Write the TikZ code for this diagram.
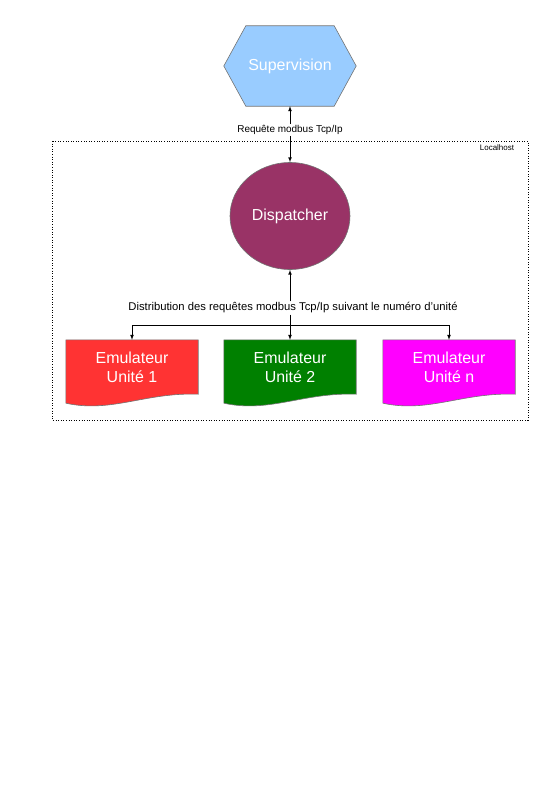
\documentclass[tikz,border=0pt]{standalone}
\usepackage{fontspec}
\setmainfont{Liberation Sans}
\usepackage{tikz}
\usetikzlibrary{shapes.geometric,calc}
\definecolor{supblue}{HTML}{99CCFF}
\definecolor{dispred}{HTML}{993366}
\definecolor{emured}{HTML}{FF3333}
\definecolor{emugreen}{HTML}{008000}
\definecolor{emupink}{HTML}{FF00FF}
\tikzstyle{big}=[text=white,font=\fontsize{16}{19}\selectfont,align=center]
\tikzstyle{small}=[text=black,font=\fontsize{10}{12}\selectfont,inner sep=1bp]
\tikzstyle{emu}=[rectangle,big,minimum width=132bp,minimum height=54bp,inner sep=0pt]
\tikzstyle{outline}=[draw=gray!90!black,line width=0.6bp]
\tikzstyle{link}=[->,line width=0.7bp,>=latex]

\begin{document}
\begin{tikzpicture}[x=1bp,y=-1bp]
  \useasboundingbox (0,0) rectangle (556,786);

  % le cadre localhost
  \draw[dotted,line width=0.6bp] (52,141) rectangle (528,420);
  \node[small,font=\fontsize{8}{10}\selectfont] (lh) at (497,148) {Localhost};

  \node[big,minimum width=88bp,minimum height=80bp,inner sep=0pt] (sup) at (290,66) {};
  \draw[outline,fill=supblue] ($(sup.west)+(-22,0)$) -- (sup.north west) -- (sup.north east)
    -- ($(sup.east)+(22,0)$) -- (sup.south east) -- (sup.south west) -- cycle;
  \node[big] at (sup) {Supervision};

  \node[ellipse,outline,fill=dispred,big,minimum width=120bp,minimum height=107bp] (disp) at (290,216) {Dispatcher};

  \node[emu] (E1) at (132,367) {};
  \node[emu] (E2) at (290,367) {};
  \node[emu] (En) at (449,367) {};
  \foreach \e/\c in {E1/emured,E2/emugreen,En/emupink}
    \draw[outline,fill=\c] ($(\e.south west)+(0,9)$) -- (\e.north west) -- (\e.north east)
      -- (\e.south east) .. controls +(-53,-2) and +(46,10) .. ($(\e.south west)+(0,9)$) -- cycle;
  \node[big] at (E1) {Emulateur\\Unité 1};
  \node[big] at (E2) {Emulateur\\Unité 2};
  \node[big] at (En) {Emulateur\\Unité n};

  \node[small] (req) at (290,130) {Requête modbus Tcp/Ip};
  \draw[link] (req) -- (sup);
  \draw[link] (req) -- (disp);

  \node[small,font=\fontsize{11.3}{13}\selectfont] (dist) at (293,308) {Distribution des requêtes modbus Tcp/Ip suivant le numéro d'unité};
  \coordinate (split) at (290,325);
  \draw[link] (dist.north -| disp) -- (disp);
  \draw[line width=0.7bp] (dist.south -| disp) -- (split);
  \draw[link] (split) -- (E2);
  \draw[link] (split) -| (E1);
  \draw[link] (split) -| (En);

\end{tikzpicture}
\end{document}
